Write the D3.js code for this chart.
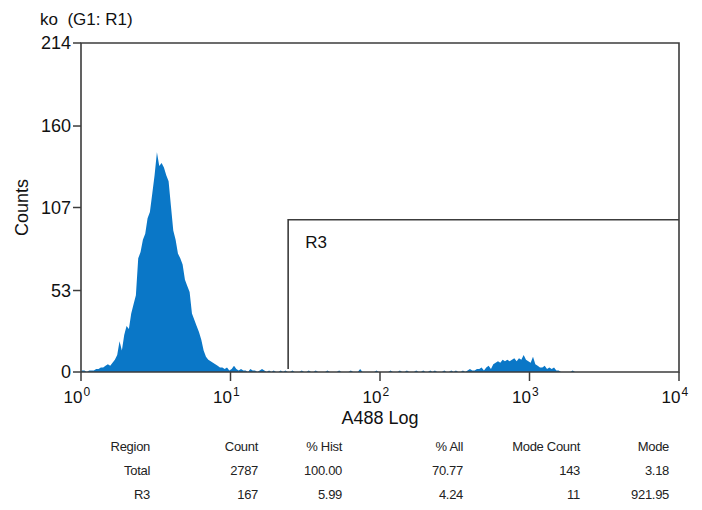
<!DOCTYPE html>
<html>
<head>
<meta charset="utf-8">
<script src="https://cdn.jsdelivr.net/npm/d3@7"></script>
<style>
  body { margin: 0; background: #fff; }
  svg { display: block; font-family: "Liberation Sans", Arial, sans-serif; }
</style>
</head>
<body>
<div id="chart"></div>
<script>
// histogram counts, 64 channels per decade, 4 decades (256 channels)
var channelsPerDecade = 64;
var counts = [
  1, 1, 0, 1, 1, 1, 2, 2, 3, 3, 4, 5, 4, 6, 8, 11,
  20, 14, 24, 30, 28, 38, 44, 50, 74, 78, 86, 90, 100, 104, 116, 128,
  143, 134, 136, 133, 128, 124, 108, 92, 86, 77, 74, 70, 60, 56, 52, 38,
  34, 30, 26, 21, 14, 10, 8, 7, 6, 5, 4, 3, 3, 2, 3, 1,
  2, 4, 2, 1, 2, 1, 1, 0, 2, 1, 1, 0, 1, 2, 1, 0,
  1, 0, 1, 0, 0, 1, 0, 1, 0, 0, 1, 0, 0, 0, 1, 0,
  0, 1, 0, 0, 1, 0, 0, 0, 0, 1, 0, 0, 0, 0, 1, 0,
  0, 0, 0, 1, 0, 0, 0, 2, 0, 0, 0, 0, 0, 0, 1, 0,
  0, 0, 0, 0, 1, 0, 0, 0, 1, 0, 0, 1, 0, 0, 0, 1,
  0, 0, 1, 0, 0, 1, 0, 1, 0, 0, 0, 1, 0, 0, 1, 0,
  1, 0, 0, 1, 0, 1, 2, 1, 1, 2, 2, 3, 1, 3, 4, 2,
  5, 6, 7, 6, 8, 7, 8, 7, 8, 9, 7, 9, 8, 11, 8, 7,
  6, 10, 5, 4, 3, 3, 4, 2, 3, 2, 3, 1, 1, 0, 0, 0,
  0, 0, 1, 0, 0, 0, 0, 0, 0, 0, 0, 0, 0, 0, 0, 0,
  0, 0, 0, 0, 0, 0, 0, 0, 0, 0, 0, 0, 0, 0, 0, 0,
  0, 0, 0, 0, 0, 0, 0, 0, 0, 0, 0, 0, 0, 0, 0, 0
];

var yTicks = [0, 53, 107, 160, 214];
var xTicks = [1, 10, 100, 1000, 10000];

// gate R3: from x1 to x2, height in counts
var gateName = "R3";
var gateX = [24.3, 10000];
var gateY = [2, 99];

var tableHeader = ["Region", "Count", "% Hist", "% All", "Mode Count", "Mode"];
var tableRows = [
  ["Total", "2787", "100.00", "70.77", "143", "3.18"],
  ["R3", "167", "5.99", "4.24", "11", "921.95"]
];

var W = 702, H = 510;
var plotL = 81, plotR = 679, plotT = 43, plotB = 372;
var ink = "#3c3c3c";

var svg = d3.select("#chart").append("svg")
    .attr("width", W)
    .attr("height", H);

var x = d3.scaleLog().domain([1, 10000]).range([plotL, plotR]);
var y = d3.scaleLinear().domain([0, 214]).range([plotB, plotT]);

var points = counts.map(function(c, i) {
    return { v: Math.pow(10, (i + 0.5) / channelsPerDecade), c: c };
});
points.unshift({ v: 1, c: 0 });
points.push({ v: 10000, c: 0 });

// histogram fill
svg.append("path")
    .datum(points)
    .attr("fill", "#0a77c7")
    .attr("d", d3.area()
        .x(function(d) { return x(d.v); })
        .y0(y(0))
        .y1(function(d) { return y(d.c); }));

// frame
svg.append("path")
    .attr("fill", "none")
    .attr("stroke", ink)
    .attr("stroke-width", 1.6)
    .attr("d", "M" + plotL + "," + plotB + "V" + plotT + "H" + plotR + "V" + plotB + "H" + plotL);

// y ticks
var yt = svg.append("g");
yTicks.forEach(function(t) {
    yt.append("line")
        .attr("x1", plotL - 8).attr("x2", plotL)
        .attr("y1", y(t)).attr("y2", y(t))
        .attr("stroke", ink).attr("stroke-width", 1.5);
    yt.append("text")
        .attr("x", plotL - 10)
        .attr("y", y(t))
        .attr("dy", "0.36em")
        .attr("text-anchor", "end")
        .attr("font-size", 18)
        .attr("fill", "#111")
        .text(t);
});

// x ticks with power labels
var xt = svg.append("g");
xTicks.forEach(function(t, i) {
    var px = x(t);
    xt.append("line")
        .attr("x1", px).attr("x2", px)
        .attr("y1", plotB).attr("y2", plotB + 9)
        .attr("stroke", ink).attr("stroke-width", 1.5);
    xt.append("text")
        .attr("x", px + 1.5)
        .attr("y", 403)
        .attr("text-anchor", "end")
        .attr("font-size", 17)
        .attr("fill", "#111")
        .text("10");
    xt.append("text")
        .attr("x", px + 2.5)
        .attr("y", 396)
        .attr("font-size", 12)
        .attr("fill", "#111")
        .text(Math.round(Math.log10(t)));
});

// gate R3
svg.append("path")
    .attr("fill", "none")
    .attr("stroke", ink)
    .attr("stroke-width", 1.6)
    .attr("d", "M" + x(gateX[0]) + "," + y(gateY[0]) + "V" + y(gateY[1]) + "H" + x(gateX[1]));
svg.append("text")
    .attr("x", x(gateX[0]) + 17)
    .attr("y", y(gateY[1]) + 28)
    .attr("font-size", 17)
    .attr("fill", "#111")
    .text(gateName);

// titles
svg.append("text")
    .attr("x", 40).attr("y", 25)
    .attr("font-size", 17)
    .attr("fill", "#111")
    .attr("xml:space", "preserve")
    .text("ko  (G1: R1)");

svg.append("text")
    .attr("x", (plotL + plotR) / 2).attr("y", 424)
    .attr("text-anchor", "middle")
    .attr("font-size", 18)
    .attr("fill", "#111")
    .text("A488 Log");

svg.append("text")
    .attr("transform", "translate(28," + ((plotT + plotB) / 2) + ") rotate(-90)")
    .attr("text-anchor", "middle")
    .attr("font-size", 18)
    .attr("fill", "#111")
    .text("Counts");

// stats table
var colRight = [150, 258, 342, 463, 580, 669];
var rowY = [451, 475, 499];
var table = svg.append("g").attr("font-size", 13).attr("fill", "#222");
[tableHeader].concat(tableRows).forEach(function(row, r) {
    row.forEach(function(cell, c) {
        table.append("text")
            .attr("x", colRight[c])
            .attr("y", rowY[r])
            .attr("text-anchor", "end")
            .attr("letter-spacing", -0.3)
            .text(cell);
    });
});
</script>
</body>
</html>
